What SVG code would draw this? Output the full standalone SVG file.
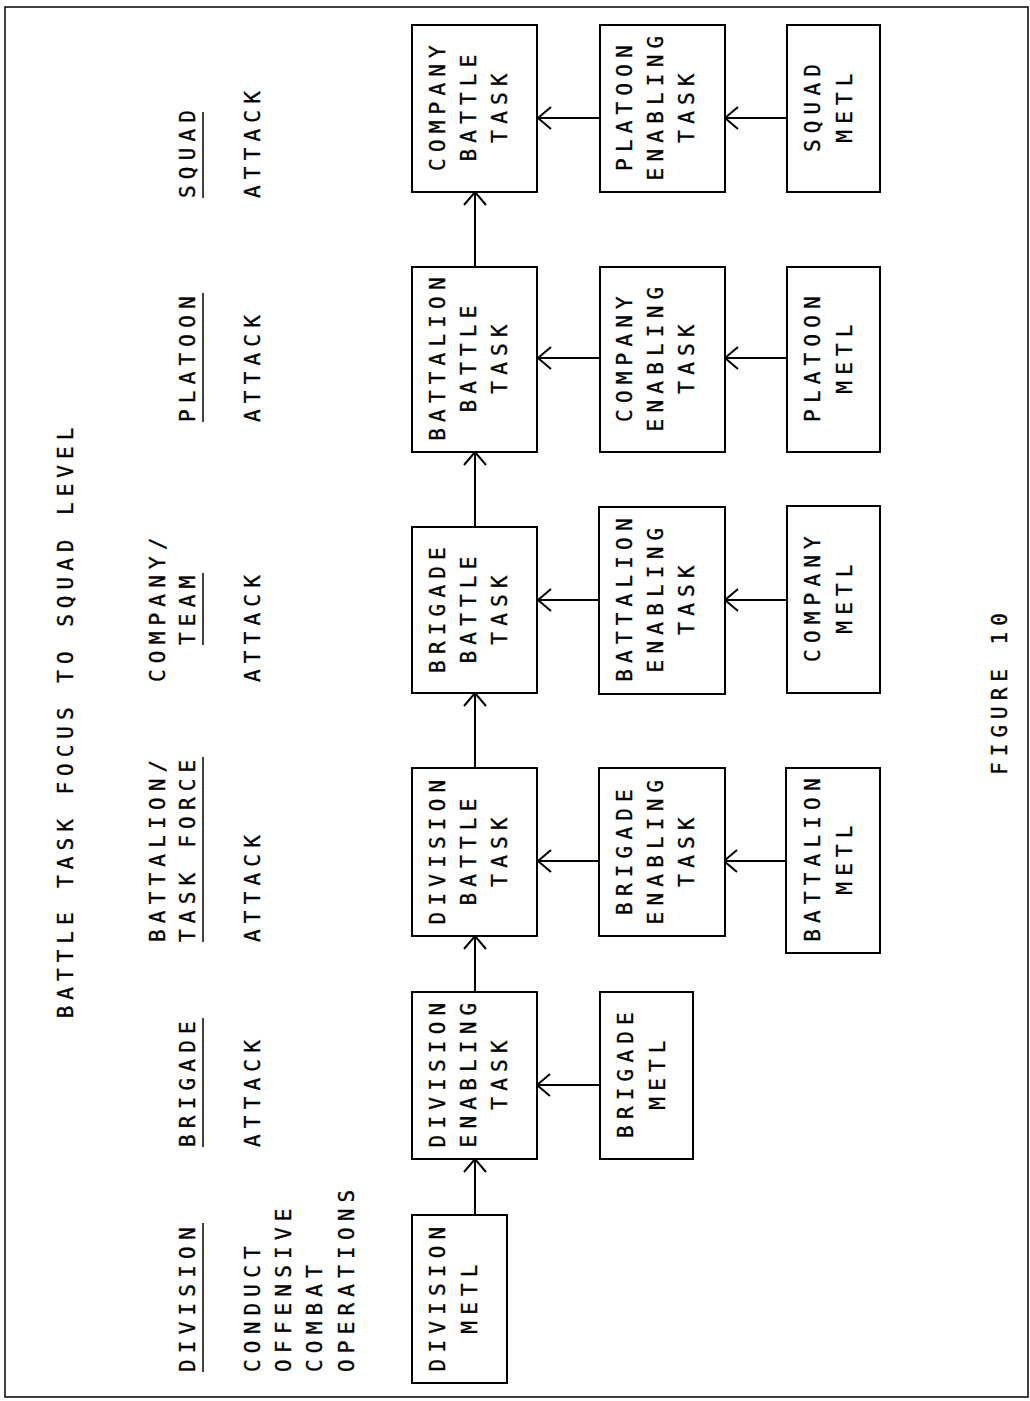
<svg xmlns="http://www.w3.org/2000/svg" width="1030" height="1401" viewBox="0 0 1030 1401">
<style>
text{font-family:"DejaVu Sans Mono","Liberation Mono",monospace;fill:#000;stroke:#000;stroke-width:0.35;font-size:21px;letter-spacing:6.2px}
.bt{text-anchor:middle}
.ttl{font-size:21px;letter-spacing:6px}
.box{fill:#fff;stroke:#000;stroke-width:2}
.cn line{stroke:#000;stroke-width:2;fill:none}
.ul{stroke:#000;stroke-width:1.5}
</style>
<defs>
<marker id="ah" markerUnits="userSpaceOnUse" markerWidth="30" markerHeight="30" viewBox="-15 -15 30 30" refX="0" refY="0" orient="auto">
<path d="M-13,-11 L0,0 L-13,11" fill="none" stroke="#000" stroke-width="2"/>
</marker>
</defs>
<rect x="0" y="0" width="1030" height="1401" fill="#fff"/>
<rect x="5" y="7" width="1023" height="1390" fill="none" stroke="#000" stroke-width="1.5"/>
<g transform="translate(0,1401) rotate(-90)">
<g id="title">
<text class="ttl bt" x="681" y="73">BATTLE TASK FOCUS TO SQUAD LEVEL</text>
<text class="ttl bt" x="710" y="1007">FIGURE 10</text>
</g>
<g id="headings">
<text x="29" y="195">DIVISION</text>
<line class="ul" x1="29" y1="203" x2="178" y2="203"/>
<text x="29" y="260">CONDUCT</text>
<text x="29" y="291">OFFENSIVE</text>
<text x="29" y="322">COMBAT</text>
<text x="29" y="354">OPERATIONS</text>
<text x="254" y="195">BRIGADE</text>
<line class="ul" x1="254" y1="203" x2="383" y2="203"/>
<text x="254" y="260">ATTACK</text>
<text x="459" y="165">BATTALION/</text>
<text x="459" y="195">TASK FORCE</text>
<line class="ul" x1="459" y1="203" x2="644" y2="203"/>
<text x="459" y="260">ATTACK</text>
<text x="719" y="165">COMPANY/</text>
<text x="756" y="195">TEAM</text>
<line class="ul" x1="756" y1="203" x2="828" y2="203"/>
<text x="719" y="260">ATTACK</text>
<text x="979" y="195">PLATOON</text>
<line class="ul" x1="979" y1="203" x2="1108" y2="203"/>
<text x="979" y="260">ATTACK</text>
<text x="1203" y="195">SQUAD</text>
<line class="ul" x1="1203" y1="203" x2="1289" y2="203"/>
<text x="1203" y="260">ATTACK</text>
</g>
<g class="cn" id="connectors">
<line x1="1134" y1="475" x2="1209" y2="475" marker-end="url(#ah)"/>
<line x1="874" y1="475" x2="949" y2="475" marker-end="url(#ah)"/>
<line x1="633" y1="475" x2="708" y2="475" marker-end="url(#ah)"/>
<line x1="409" y1="475" x2="465" y2="475" marker-end="url(#ah)"/>
<line x1="186" y1="475" x2="242" y2="475" marker-end="url(#ah)"/>
<line x1="1283" y1="600" x2="1283" y2="538" marker-end="url(#ah)"/>
<line x1="1283" y1="787" x2="1283" y2="725" marker-end="url(#ah)"/>
<line x1="1043" y1="600" x2="1043" y2="538" marker-end="url(#ah)"/>
<line x1="1043" y1="787" x2="1043" y2="725" marker-end="url(#ah)"/>
<line x1="801" y1="599" x2="801" y2="538" marker-end="url(#ah)"/>
<line x1="801" y1="787" x2="801" y2="725" marker-end="url(#ah)"/>
<line x1="540" y1="599" x2="540" y2="538" marker-end="url(#ah)"/>
<line x1="540" y1="786" x2="540" y2="724" marker-end="url(#ah)"/>
<line x1="316" y1="600" x2="316" y2="537" marker-end="url(#ah)"/>
</g>
<g id="company-battle-task"><rect class="box" x="1209" y="412" width="167" height="125"/>
<text class="bt" x="1296" y="445">COMPANY</text><text class="bt" x="1296" y="476">BATTLE</text><text class="bt" x="1296" y="507">TASK</text></g>
<g id="battalion-battle-task"><rect class="box" x="949" y="412" width="185" height="125"/>
<text class="bt" x="1045" y="445">BATTALION</text><text class="bt" x="1045" y="476">BATTLE</text><text class="bt" x="1045" y="507">TASK</text></g>
<g id="brigade-battle-task"><rect class="box" x="708" y="412" width="166" height="125"/>
<text class="bt" x="794" y="445">BRIGADE</text><text class="bt" x="794" y="476">BATTLE</text><text class="bt" x="794" y="507">TASK</text></g>
<g id="division-battle-task"><rect class="box" x="465" y="412" width="168" height="125"/>
<text class="bt" x="552" y="445">DIVISION</text><text class="bt" x="552" y="476">BATTLE</text><text class="bt" x="552" y="507">TASK</text></g>
<g id="division-enabling-task"><rect class="box" x="242" y="412" width="167" height="125"/>
<text class="bt" x="329" y="445">DIVISION</text><text class="bt" x="329" y="476">ENABLING</text><text class="bt" x="329" y="507">TASK</text></g>
<g id="division-metl"><rect class="box" x="18" y="412" width="168" height="95"/>
<text class="bt" x="105" y="445">DIVISION</text><text class="bt" x="105" y="477">METL</text></g>
<g id="platoon-enabling-task"><rect class="box" x="1209" y="600" width="167" height="125"/>
<text class="bt" x="1296" y="632">PLATOON</text><text class="bt" x="1296" y="663">ENABLING</text><text class="bt" x="1296" y="694">TASK</text></g>
<g id="company-enabling-task"><rect class="box" x="949" y="600" width="185" height="125"/>
<text class="bt" x="1045" y="632">COMPANY</text><text class="bt" x="1045" y="663">ENABLING</text><text class="bt" x="1045" y="694">TASK</text></g>
<g id="battalion-enabling-task"><rect class="box" x="707" y="599" width="187" height="126"/>
<text class="bt" x="804" y="632">BATTALION</text><text class="bt" x="804" y="663">ENABLING</text><text class="bt" x="804" y="694">TASK</text></g>
<g id="brigade-enabling-task"><rect class="box" x="465" y="599" width="168" height="126"/>
<text class="bt" x="552" y="632">BRIGADE</text><text class="bt" x="552" y="663">ENABLING</text><text class="bt" x="552" y="694">TASK</text></g>
<g id="brigade-metl"><rect class="box" x="242" y="600" width="167" height="93"/>
<text class="bt" x="329" y="633">BRIGADE</text><text class="bt" x="329" y="665">METL</text></g>
<g id="squad-metl"><rect class="box" x="1209" y="787" width="167" height="93"/>
<text class="bt" x="1296" y="820">SQUAD</text><text class="bt" x="1296" y="852">METL</text></g>
<g id="platoon-metl"><rect class="box" x="949" y="787" width="185" height="93"/>
<text class="bt" x="1045" y="820">PLATOON</text><text class="bt" x="1045" y="852">METL</text></g>
<g id="company-metl"><rect class="box" x="708" y="787" width="187" height="93"/>
<text class="bt" x="805" y="820">COMPANY</text><text class="bt" x="805" y="852">METL</text></g>
<g id="battalion-metl"><rect class="box" x="448" y="786" width="185" height="94"/>
<text class="bt" x="544" y="820">BATTALION</text><text class="bt" x="544" y="852">METL</text></g>
</g>
</svg>
